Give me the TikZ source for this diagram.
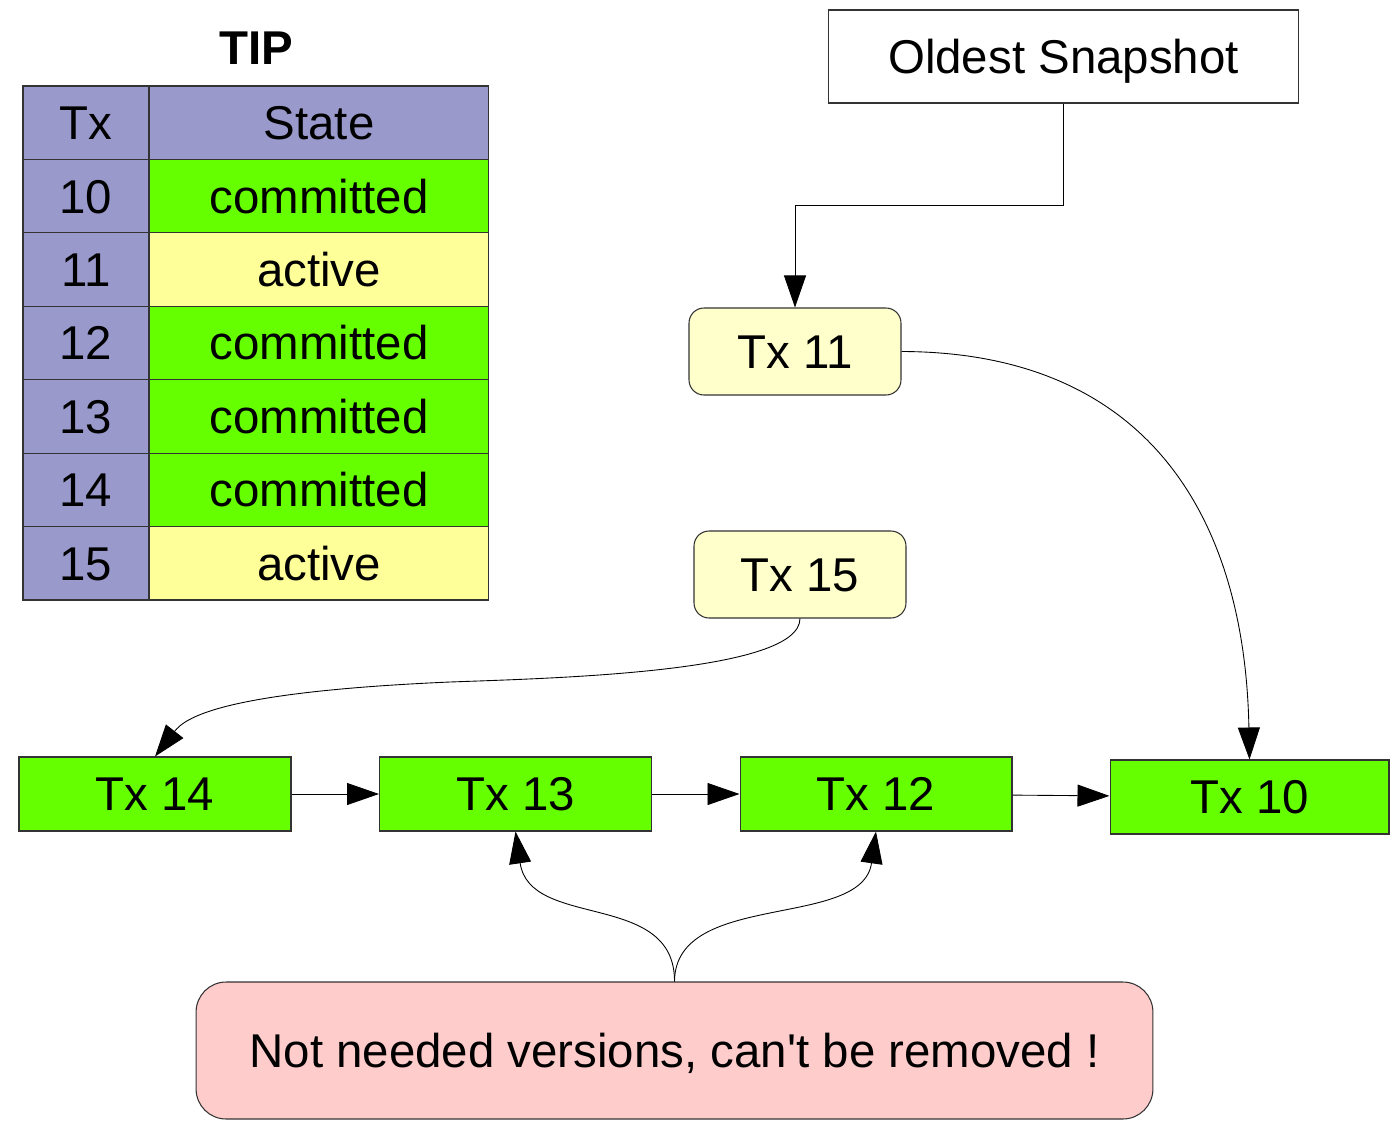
\documentclass[tikz,border=0pt]{standalone}
\usepackage{fontspec}
\setmainfont{Liberation Sans}
\usetikzlibrary{positioning,arrows.meta}

\definecolor{tiphead}{HTML}{9999CC}
\definecolor{txgreen}{HTML}{66FF00}
\definecolor{txyellow}{HTML}{FFFF99}
\definecolor{snapyellow}{HTML}{FFFFCC}
\definecolor{notepink}{HTML}{FFCCCC}

\begin{document}
\begin{tikzpicture}[x=0.02cm, y=-0.02cm,
  every node/.style={font=\fontsize{27}{32}\selectfont, text height=19.3pt, text depth=0pt, inner sep=0pt},
  cellbox/.style={draw=black!80, line width=0.6pt, minimum height=1.468cm, font=\fontsize{27}{32}\selectfont},
  version/.style={draw=black!80, line width=0.6pt, fill=txgreen, minimum width=5.44cm, minimum height=1.48cm},
  snap/.style={draw=black!80, line width=0.6pt, rounded corners=0.3cm, fill=snapyellow, minimum width=4.24cm, minimum height=1.74cm},
  link/.style={-{Triangle[length=0.64cm,width=0.44cm]}, line width=0.5pt}]
  \useasboundingbox (0,0) rectangle (1394,1120);

  %----- TIP table -----
  \def\txrow#1#2#3#4{ % (row, tx, state, colour)
    \pgfmathsetmacro{\yc}{86+73.43*#1+36.7}
    \node[cellbox, fill=tiphead, minimum width=2.52cm] (id#2) at (86,\yc) {#2};
    \node[cellbox, fill=#4, minimum width=6.8cm] (st#2) at (319,\yc) {#3};
  }
  \node[font=\bfseries\fontsize{27}{32}\selectfont] (tip) at (256,48) {TIP};
  \txrow{0}{Tx}{State}{tiphead}
  \txrow{1}{10}{committed}{txgreen}
  \txrow{2}{11}{active}{txyellow}
  \txrow{3}{12}{committed}{txgreen}
  \txrow{4}{13}{committed}{txgreen}
  \txrow{5}{14}{committed}{txgreen}
  \txrow{6}{15}{active}{txyellow}

  %----- snapshot and active transactions -----
  \node[draw=black!80, line width=0.6pt, minimum width=9.42cm, minimum height=1.86cm] (oldest) at (1063.5,56.5) {Oldest Snapshot};
  \node[snap] (tx11) at (795,351.5) {Tx 11};
  \node[snap] (tx15) at (800,574.5) {Tx 15};

  %----- version chain -----
  \node[version] (tx14) at (155,794) {Tx 14};
  \node[version] (tx13) at (515.5,794) {Tx 13};
  \node[version] (tx12) at (876,794) {Tx 12};
  \node[version, minimum width=5.58cm] (tx10) at (1249.5,797) {Tx 10};

  \node[draw=black!80, line width=0.6pt, rounded corners=0.6cm, fill=notepink, minimum width=19.14cm, minimum height=2.74cm] (note) at (674.5,1050.5) {Not needed versions, can\textquotesingle t be removed !};

  %----- connectors -----
  \coordinate (bend) at (795,205);
  \draw[link] (oldest.south) |- (bend) -- (tx11.north);
  \draw[link] (tx11.east) .. controls (1150,352) and (1245,520) .. (tx10.north);
  \draw[link] (tx15.south) .. controls (800,672) and (560,678) .. (450,682)
    .. controls (220,692) and (185,718) .. (tx14.north);
  \draw[link] (tx14) -- (tx13);
  \draw[link] (tx13) -- (tx12);
  \draw[link] (tx12) -- (tx10);
  \draw[link] (note.north) .. controls (675,890) and (530,930) .. (tx13.south);
  \draw[link] (note.north) .. controls (675,890) and (862,930) .. (tx12.south);
\end{tikzpicture}
\end{document}
